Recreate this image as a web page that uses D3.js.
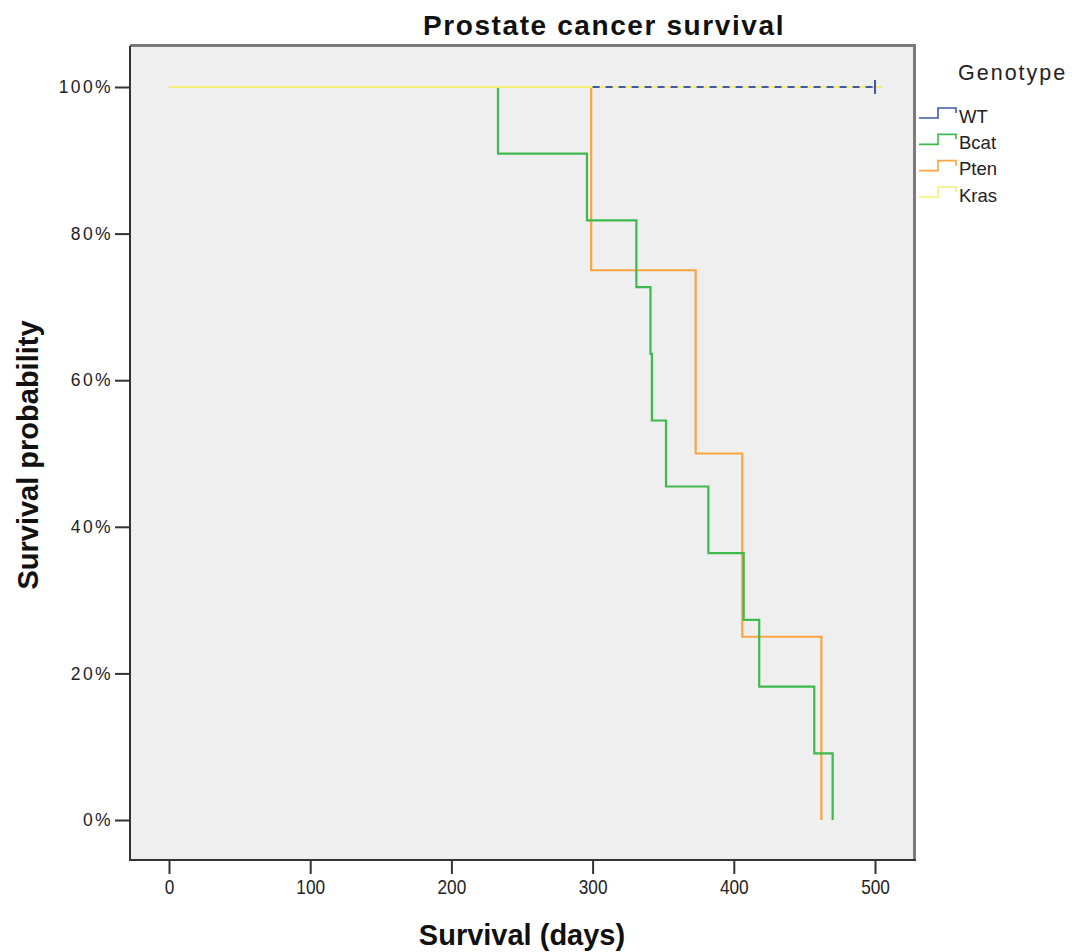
<!DOCTYPE html>
<html>
<head>
<meta charset="utf-8">
<script src="https://cdn.jsdelivr.net/npm/d3@7"></script>
<style>
  body { margin: 0; background: #ffffff; }
  svg { display: block; }
</style>
</head>
<body>
<svg id="chart" width="1072" height="952"></svg>
<script>
// ---- Data ----
const genotypes = ["WT", "Bcat", "Pten", "Kras"];
const colors = ["#3E58AC", "#3DB94D", "#F9A53D", "#F4EE78"];

// Kaplan–Meier step data: times (days) and survival after each time
const wtTimes = [300, 500];
const wtSurv = [1, 1];
const wtCensor = [500];

const bcatTimes = [0, 233, 296, 331, 341, 342, 352, 382, 407, 418, 457, 470];
const bcatSurv = [1, 0.909, 0.818, 0.727, 0.636, 0.545, 0.455, 0.364, 0.273, 0.182, 0.091, 0];

const ptenTimes = [0, 299, 373, 406, 462];
const ptenSurv = [1, 0.75, 0.5, 0.25, 0];

const krasTimes = [0, 505];
const krasSurv = [1, 1];

const xTicks = [0, 100, 200, 300, 400, 500];
const yTicks = [0, 0.2, 0.4, 0.6, 0.8, 1.0];

// ---- Layout ----
const svg = d3.select("#chart");
const frame = { left: 130, top: 46, right: 914, bottom: 860 };

const x = d3.scaleLinear().domain([0, 500]).range([169, 875]);
const y = d3.scaleLinear().domain([0, 1]).range([820, 87]);

// plot background
svg.append("rect")
  .attr("x", frame.left).attr("y", frame.top)
  .attr("width", frame.right - frame.left).attr("height", frame.bottom - frame.top)
  .attr("fill", "#EFEFEF");

// frame borders: top/right grey (thicker), left/bottom dark
svg.append("line").attr("x1", frame.left).attr("x2", frame.right + 1)
  .attr("y1", frame.top - 0.5).attr("y2", frame.top - 0.5)
  .attr("stroke", "#7a7a7a").attr("stroke-width", 3);
svg.append("line").attr("x1", frame.right + 0.5).attr("x2", frame.right + 0.5)
  .attr("y1", frame.top - 2).attr("y2", frame.bottom)
  .attr("stroke", "#7a7a7a").attr("stroke-width", 3);
svg.append("line").attr("x1", frame.left).attr("x2", frame.left)
  .attr("y1", frame.top).attr("y2", frame.bottom)
  .attr("stroke", "#333").attr("stroke-width", 2);
svg.append("line").attr("x1", frame.left - 1).attr("x2", frame.right + 2)
  .attr("y1", frame.bottom).attr("y2", frame.bottom)
  .attr("stroke", "#333").attr("stroke-width", 2);

// Axes
const yAxis = d3.axisLeft(y).tickValues(yTicks).tickFormat(d3.format(".0%"))
  .tickSize(14).tickPadding(2);
const gy = svg.append("g").attr("transform", `translate(${frame.left - 1},0)`).call(yAxis);
gy.select(".domain").remove();
gy.selectAll(".tick line").attr("stroke", "#333").attr("stroke-width", 2);
gy.selectAll(".tick text")
  .attr("font-family", "Liberation Sans, Arial, sans-serif")
  .attr("font-size", 17.5).attr("letter-spacing", "2.4px")
  .attr("fill", "#222");

const xAxis = d3.axisBottom(x).tickValues(xTicks).tickFormat(d3.format("d"))
  .tickSize(13).tickPadding(5);
const gx = svg.append("g").attr("transform", `translate(0,${frame.bottom + 1})`).call(xAxis);
gx.select(".domain").remove();
gx.selectAll(".tick line").attr("stroke", "#333").attr("stroke-width", 2);
gx.selectAll(".tick text")
  .attr("font-family", "Liberation Sans, Arial, sans-serif")
  .attr("font-size", 21)
  .attr("transform", "scale(0.82,1)")
  .attr("fill", "#222");

// Titles
svg.append("text").attr("x", 604).attr("y", 35).attr("text-anchor", "middle")
  .attr("font-family", "Liberation Sans, Arial, sans-serif").attr("font-weight", "bold")
  .attr("font-size", 28).attr("letter-spacing", "1.6px").attr("fill", "#111")
  .text("Prostate cancer survival");

svg.append("text").attr("x", 522).attr("y", 945).attr("text-anchor", "middle")
  .attr("font-family", "Liberation Sans, Arial, sans-serif").attr("font-weight", "bold")
  .attr("font-size", 29).attr("fill", "#111")
  .text("Survival (days)");

svg.append("text").attr("transform", "translate(38,455) rotate(-90)").attr("text-anchor", "middle")
  .attr("font-family", "Liberation Sans, Arial, sans-serif").attr("font-weight", "bold")
  .attr("font-size", 29).attr("fill", "#111")
  .text("Survival probability");

// ---- Curves ----
const line = d3.line().x(d => x(d[0])).y(d => y(d[1])).curve(d3.curveStepAfter);
const zip = (t, s) => t.map((v, i) => [v, s[i]]);

const series = [
  { name: "Pten", data: zip(ptenTimes, ptenSurv), color: colors[2], dash: null },
  { name: "Bcat", data: zip(bcatTimes, bcatSurv), color: colors[1], dash: null },
  { name: "Kras", data: zip(krasTimes, krasSurv), color: colors[3], dash: null },
  { name: "WT", data: zip(wtTimes, wtSurv), color: colors[0], dash: "7,6" }
];

series.forEach(s => {
  svg.append("path").datum(s.data)
    .attr("d", line)
    .attr("fill", "none")
    .attr("stroke", s.color)
    .attr("stroke-width", 2.2)
    .attr("stroke-dasharray", s.dash);
});

// censor marks for WT
svg.selectAll(".censor").data(wtCensor).enter().append("line")
  .attr("x1", d => x(d)).attr("x2", d => x(d))
  .attr("y1", d => y(1) - 7).attr("y2", d => y(1) + 7)
  .attr("stroke", colors[0]).attr("stroke-width", 2);

// ---- Legend ----
svg.append("text").attr("x", 958).attr("y", 80)
  .attr("font-family", "Liberation Sans, Arial, sans-serif")
  .attr("font-size", 21.5).attr("letter-spacing", "2px").attr("fill", "#222")
  .text("Genotype");

const legendY = d3.scalePoint().domain(genotypes).range([118, 197]);
const lg = svg.selectAll(".leg").data(genotypes).enter().append("g")
  .attr("transform", d => `translate(0,${legendY(d)})`);
lg.append("path")
  .attr("d", "M919,0 H938 V-10 H956 V-5")
  .attr("fill", "none")
  .attr("stroke", (d, i) => colors[i])
  .attr("stroke-width", 1.6);
lg.append("text").attr("x", 959).attr("y", 4.5)
  .attr("font-family", "Liberation Sans, Arial, sans-serif")
  .attr("font-size", 18.5).attr("fill", "#222")
  .text(d => d);
</script>
</body>
</html>
